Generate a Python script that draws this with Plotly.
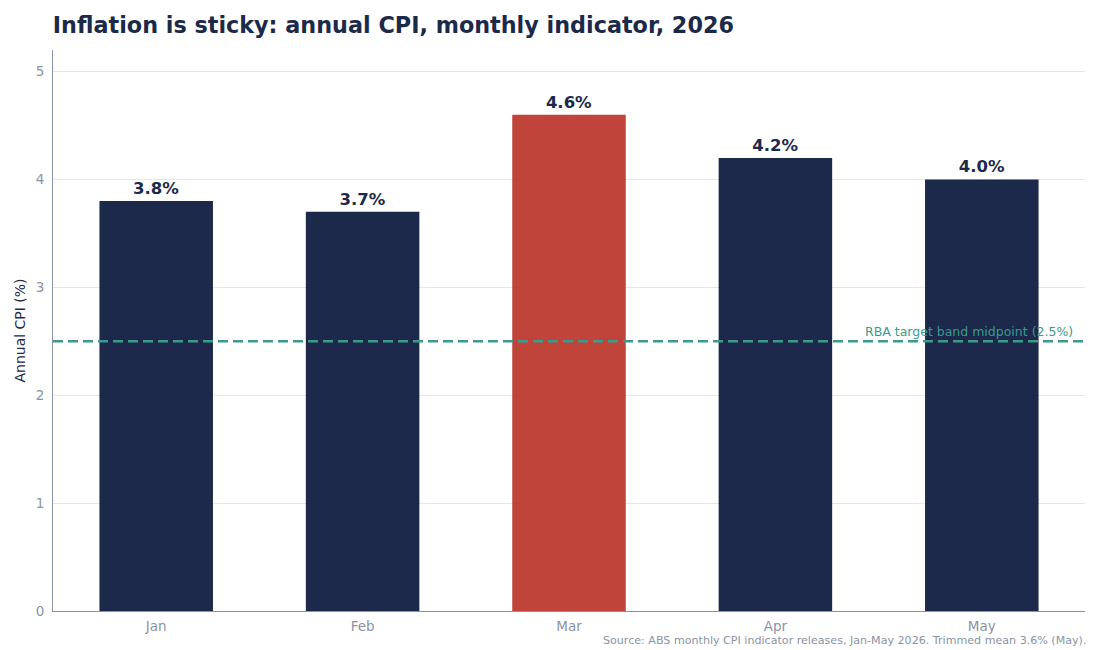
import plotly.graph_objects as go

months = ["Jan", "Feb", "Mar", "Apr", "May"]
cpi = [3.8, 3.7, 4.6, 4.2, 4.0]
# base colours chosen so that at 0.9 opacity they render as #1c2a4a / #c0453b
bar_colors = ["#031236", "#031236", "#b93025", "#031236", "#031236"]
labels = [f"{v:.1f}%" for v in cpi]
target = 2.5

fig = go.Figure()
fig.add_trace(go.Bar(
    x=months, y=cpi, marker=dict(color=bar_colors, opacity=0.9, line=dict(width=0)),
    width=0.55,
    text=labels, textposition="outside", cliponaxis=False,
    textfont=dict(family="DejaVu Sans", size=16.5, color="#1c2a4a", weight="bold"),
    hoverinfo="skip",
))
fig.add_shape(type="line", xref="paper", x0=0, x1=1, yref="y", y0=target, y1=target,
              line=dict(color="#3a9a8c", width=2.5, dash="10px,5px"), layer="above")
fig.add_annotation(xref="paper", x=0.99, yref="y", y=target, yshift=10,
                   text="RBA target band midpoint (2.5%)", showarrow=False,
                   xanchor="right", font=dict(family="DejaVu Sans", size=12.5, color="#3a9a8c"))
fig.add_annotation(xref="paper", x=1.003, yref="paper", y=-0.052, yanchor="middle",
                   text="Source: ABS monthly CPI indicator releases, Jan-May 2026. Trimmed mean 3.6% (May).",
                   showarrow=False, xanchor="right",
                   font=dict(family="DejaVu Sans", size=11.1, color="#8a93a5"))
fig.update_layout(
    width=1100, height=650,
    margin=dict(l=53, r=15, t=50, b=39),
    paper_bgcolor="white", plot_bgcolor="white",
    font=dict(family="DejaVu Sans", color="#8a93a5"),
    title=dict(text="<b>Inflation is sticky: annual CPI, monthly indicator, 2026</b>",
               x=0.048, xanchor="left", y=0.962, yanchor="middle",
               font=dict(family="DejaVu Sans", size=22.3, color="#1c2a4a")),
    showlegend=False,
    xaxis=dict(range=[-0.5, 4.5], showline=True, linecolor="#8a93a5", linewidth=1,
               tickfont=dict(size=13.5, color="#8a93a5"), showgrid=False,
               ticks="outside", ticklen=3, tickcolor="rgba(0,0,0,0)"),
    yaxis=dict(range=[0, 5.2], showline=True, linecolor="#8a93a5", linewidth=1,
               gridcolor="#e6e6e6", gridwidth=1, dtick=1, zeroline=False,
               tickfont=dict(size=13.5, color="#8a93a5"),
               ticks="outside", ticklen=5, tickcolor="rgba(0,0,0,0)",
               title=dict(text="Annual CPI (%)", font=dict(size=14, color="#1c2a4a"), standoff=6)),
)
fig.write_html("out.html")
